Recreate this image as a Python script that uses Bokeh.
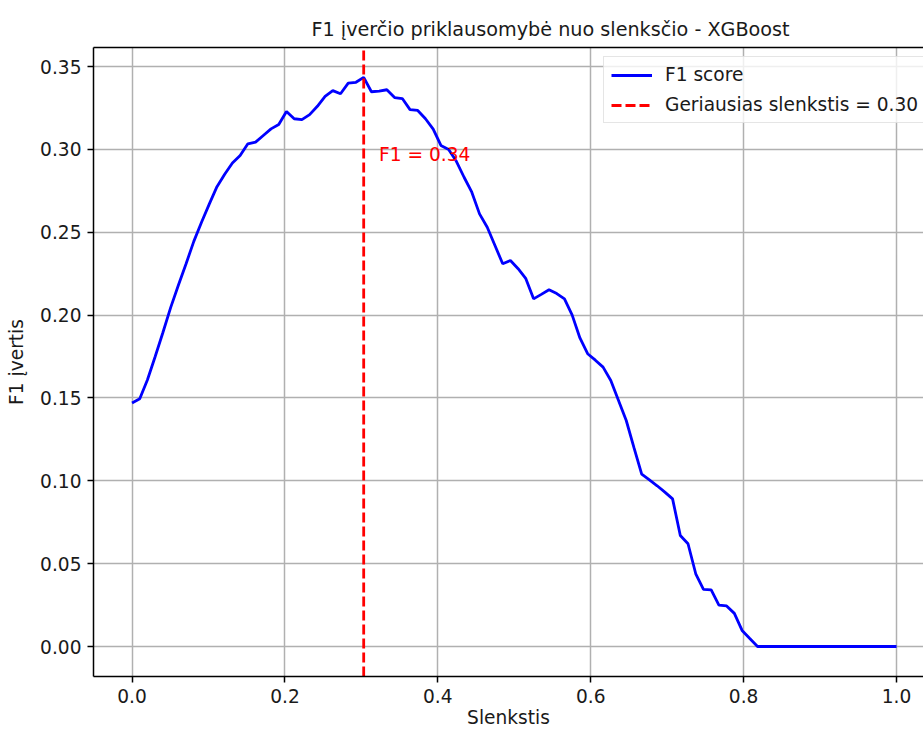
import numpy as np
from bokeh.plotting import figure
from bokeh.models import (Range1d, FixedTicker, PrintfTickFormatter, LinearAxis,
                          Legend, LegendItem)
from bokeh.core.properties import value
from bokeh.embed import file_html
from bokeh.resources import INLINE

# ---- data ----
thresholds = np.linspace(0, 1, 100)
f1_scores = [
    0.1470, 0.1495, 0.1610, 0.1750, 0.1895, 0.2045, 0.2180, 0.2310, 0.2445, 0.2560,
    0.2670, 0.2775, 0.2850, 0.2918, 0.2963, 0.3034, 0.3044, 0.3084, 0.3124, 0.3150,
    0.3229, 0.3185, 0.3180, 0.3210, 0.3260, 0.3320, 0.3355, 0.3336, 0.3400, 0.3405,
    0.3435, 0.3348, 0.3352, 0.3360, 0.3313, 0.3307, 0.3240, 0.3235, 0.3185, 0.3122,
    0.3024, 0.3000, 0.2928, 0.2832, 0.2742, 0.2611, 0.2530, 0.2420, 0.2310, 0.2330,
    0.2280, 0.2220, 0.2098, 0.2125, 0.2153, 0.2130, 0.2098, 0.2000, 0.1862, 0.1767,
    0.1728, 0.1686, 0.1605, 0.1485, 0.1364, 0.1200, 0.1040, 0.1005, 0.0970, 0.0932,
    0.0891, 0.0670, 0.0620, 0.0439, 0.0345, 0.0342, 0.0250, 0.0245, 0.0200, 0.0097,
    0.0048, 0.0000, 0.0000, 0.0000, 0.0000, 0.0000, 0.0000, 0.0000, 0.0000, 0.0000,
    0.0000, 0.0000, 0.0000, 0.0000, 0.0000, 0.0000, 0.0000, 0.0000, 0.0000, 0.0000,
]
x_ticks = [0.0, 0.2, 0.4, 0.6, 0.8, 1.0]
y_ticks = [0.00, 0.05, 0.10, 0.15, 0.20, 0.25, 0.30, 0.35]

title_text = "F1 įverčio priklausomybė nuo slenksčio - XGBoost"
x_label = "Slenkstis"
y_label = "F1 įvertis"

best_idx = int(np.argmax(f1_scores))
best_thr = float(thresholds[best_idx])
best_f1 = float(f1_scores[best_idx])

FONT = "DejaVu Sans"
TXT = "#1a1a1a"
Y0, Y1 = -0.0181, 0.3615

p = figure(width=923, height=731, output_backend="svg", toolbar_location=None,
           x_range=Range1d(-0.0504, 1.0353), y_range=Range1d(Y0, Y1),
           min_border_left=93, min_border_right=0, min_border_top=47,
           min_border_bottom=55, x_axis_location=None, y_axis_location=None)
p.outline_line_color = None
p.background_fill_color = "white"
p.border_fill_color = "white"

p.title.text = title_text
p.title.align = "left"
p.title.offset = 218
p.title.text_font = FONT
p.title.text_font_size = "19.2px"
p.title.text_font_style = "normal"
p.title.text_color = TXT
p.title.standoff = 13

xax = LinearAxis(ticker=FixedTicker(ticks=x_ticks),
                 formatter=PrintfTickFormatter(format="%.1f"),
                 axis_label=x_label, axis_label_standoff=1)
yax = LinearAxis(ticker=FixedTicker(ticks=y_ticks),
                 formatter=PrintfTickFormatter(format="%.2f"),
                 axis_label=y_label, axis_label_standoff=10)
for ax in (xax, yax):
    ax.axis_line_color = "black"
    ax.axis_line_width = 1.5
    ax.major_tick_line_color = "black"
    ax.major_tick_line_width = 1.5
    ax.major_tick_in = 0
    ax.major_tick_out = 6
    ax.minor_tick_line_color = None
    ax.major_label_text_font = FONT
    ax.major_label_text_font_size = "18.6px"
    ax.major_label_text_color = TXT
    ax.axis_label_text_font = FONT
    ax.axis_label_text_font_size = "18.6px"
    ax.axis_label_text_font_style = "normal"
    ax.axis_label_text_color = TXT
    ax.major_label_standoff = 6
p.add_layout(xax, "below")
p.add_layout(yax, "left")

# top spine only
top = LinearAxis(ticker=FixedTicker(ticks=[]), major_label_text_font_size="0px",
                 major_tick_out=0, major_tick_in=0, minor_tick_out=0, minor_tick_in=0,
                 major_label_standoff=0, axis_line_color="black", axis_line_width=1.5,
                 minor_tick_line_color=None, major_tick_line_color=None)
p.add_layout(top, "above")

p.xgrid.ticker = FixedTicker(ticks=x_ticks)
p.ygrid.ticker = FixedTicker(ticks=y_ticks)
for g in (p.xgrid, p.ygrid):
    g.grid_line_color = "#b0b0b0"
    g.grid_line_width = 1.5

r1 = p.line(thresholds, f1_scores, line_color="blue", line_width=2.8)
r2 = p.line([best_thr, best_thr], [Y0, Y1], line_color="red", line_width=2.8,
            line_dash="10 4")
p.text(x=[best_thr + 0.02], y=[best_f1 - 0.05], text=[f"F1 = {best_f1:.2f}"],
       text_color="red", text_font=value(FONT), text_font_size="18.6px",
       text_baseline="alphabetic", text_align="left", y_offset=-6)

legend = Legend(items=[LegendItem(label="F1 score", renderers=[r1]),
                       LegendItem(label=f"Geriausias slenkstis = {best_thr:.2f}",
                                  renderers=[r2])],
                location=(510, 553), margin=0, padding=7, spacing=9,
                glyph_width=41, glyph_height=20, label_height=20, label_standoff=13,
                label_text_font=FONT, label_text_font_size="18.6px",
                label_text_color=TXT, border_line_color="#cccccc",
                border_line_width=1.5, background_fill_alpha=0.8)
p.add_layout(legend)

open("out.html", "w").write(file_html(p, INLINE))
